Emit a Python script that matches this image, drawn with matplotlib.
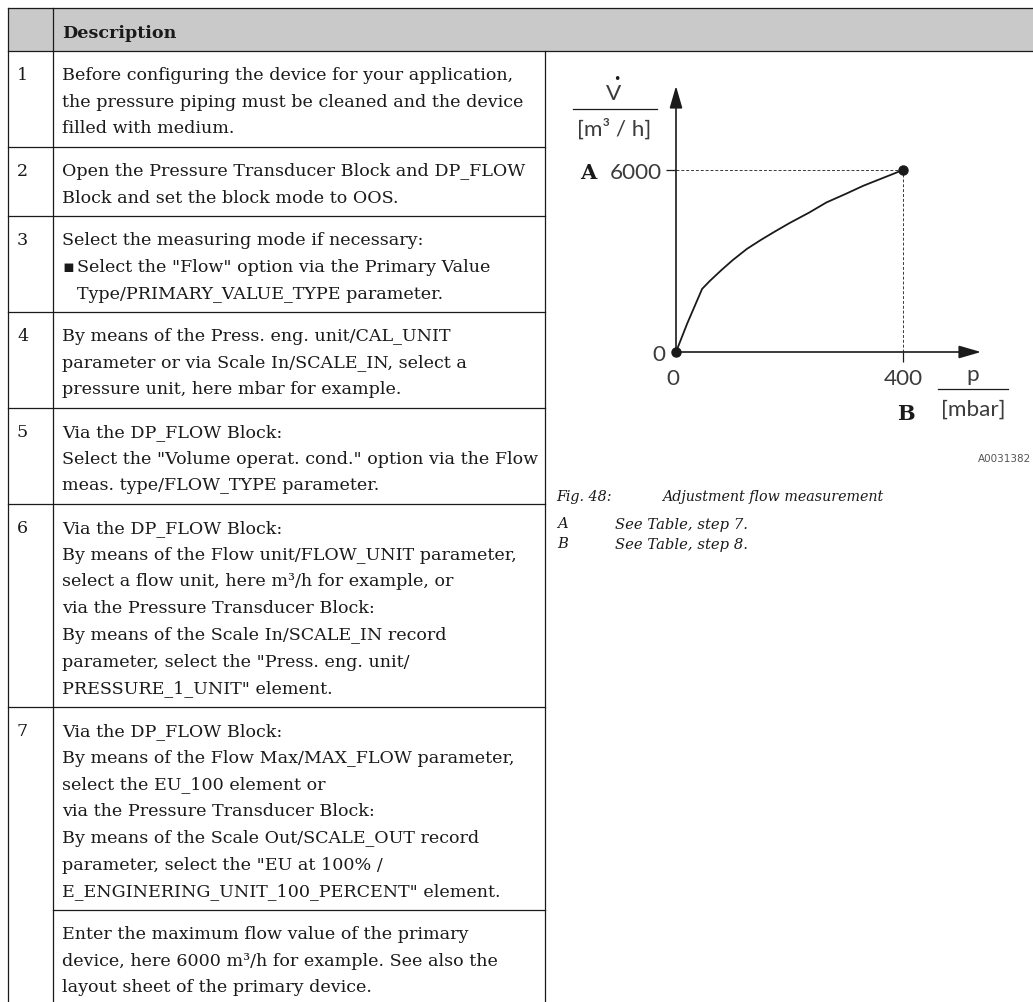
import matplotlib
matplotlib.use("Agg")
import matplotlib.pyplot as plt
from matplotlib.patches import Rectangle

W, H, DPI = 1033, 1003, 100

# flow curve: differential pressure [mbar] -> flow [m3/h]
pressure = [0, 20, 46, 60, 80, 100, 125, 150, 175, 200, 235, 265, 300, 330, 365, 400]
flow = [0, 950, 2080, 2350, 2700, 3030, 3400, 3700, 3980, 4250, 4600, 4930,
        5220, 5480, 5740, 6000]
p_max, q_max = 400, 6000

step_numbers = ["1", "2", "3", "4", "5", "6", "7", ""]
step_lines = [
    ["Before configuring the device for your application,",
     "the pressure piping must be cleaned and the device",
     "filled with medium."],
    ["Open the Pressure Transducer Block and DP_FLOW",
     "Block and set the block mode to OOS."],
    ["Select the measuring mode if necessary:",
     "\u25aaSelect the \"Flow\" option via the Primary Value",
     "\tType/PRIMARY_VALUE_TYPE parameter."],
    ["By means of the Press. eng. unit/CAL_UNIT",
     "parameter or via Scale In/SCALE_IN, select a",
     "pressure unit, here mbar for example."],
    ["Via the DP_FLOW Block:",
     "Select the \"Volume operat. cond.\" option via the Flow",
     "meas. type/FLOW_TYPE parameter."],
    ["Via the DP_FLOW Block:",
     "By means of the Flow unit/FLOW_UNIT parameter,",
     "select a flow unit, here m\u00b3/h for example, or",
     "via the Pressure Transducer Block:",
     "By means of the Scale In/SCALE_IN record",
     "parameter, select the \"Press. eng. unit/",
     "PRESSURE_1_UNIT\" element."],
    ["Via the DP_FLOW Block:",
     "By means of the Flow Max/MAX_FLOW parameter,",
     "select the EU_100 element or",
     "via the Pressure Transducer Block:",
     "By means of the Scale Out/SCALE_OUT record",
     "parameter, select the \"EU at 100% /",
     "E_ENGINERING_UNIT_100_PERCENT\" element."],
    ["Enter the maximum flow value of the primary",
     "device, here 6000 m\u00b3/h for example. See also the",
     "layout sheet of the primary device."],
]

SERIF = "DejaVu Serif"
SANS = "Lato"
INK = "#1a1a1a"

fig = plt.figure(figsize=(W / DPI, H / DPI), dpi=DPI)
ax = fig.add_axes([0, 0, 1, 1])
ax.set_xlim(0, W)
ax.set_ylim(H, 0)
ax.axis("off")
renderer = fig.canvas.get_renderer()


def fit(txt, target, **kw):
    # font size that makes txt about target pixels wide
    t = ax.text(0, 0, txt, fontsize=10, **kw)
    w = t.get_window_extent(renderer).width
    t.remove()
    return 10 * target / w


body = fit(step_lines[0][0], 452, family=SERIF)

# ---- table ----
x_left, x_div, x_right = 8, 53, 545
y_top, y_head = 9, 52
line_h, pad = 26.75, 42.5

ax.add_patch(Rectangle((x_left, y_top), W - x_left, y_head - y_top,
                       facecolor="#c9c9c9", edgecolor="none"))
lw = 0.9
ax.plot([x_left, W], [y_top, y_top], color=INK, lw=lw)
ax.plot([x_left, W], [y_head, y_head], color=INK, lw=lw)
ax.plot([x_left, x_left], [y_top, H], color=INK, lw=lw)
ax.plot([x_div, x_div], [y_top, H], color=INK, lw=lw)
ax.plot([x_right, x_right], [y_head, H], color=INK, lw=lw)
ax.text(62, (y_top + y_head) / 2 + 1, "Description", fontsize=body, family=SERIF,
        weight="bold", color=INK, va="center_baseline")

y = y_head
for k, (num, lines) in enumerate(zip(step_numbers, step_lines)):
    first = y + pad / 2
    ax.text(17, first, num, fontsize=body, family=SERIF, color=INK, va="center_baseline")
    for i, s in enumerate(lines):
        yy = first + i * line_h
        x = 62
        if s.startswith("\u25aa"):
            ax.text(62, yy, "\u25aa", fontsize=body, family="DejaVu Sans",
                    color=INK, va="center_baseline")
            s, x = s[1:], 77
        elif s.startswith("\t"):
            s, x = s[1:], 77
        ax.text(x, yy, s, fontsize=body, family=SERIF, color=INK, va="center_baseline")
    y = y + pad + (len(lines) - 1) * line_h
    if k < len(step_lines) - 1:
        x0 = x_div if k == 6 else x_left
        ax.plot([x0, x_right], [y, y], color=INK, lw=lw)

# ---- chart ----
ox, oy = 676, 353      # pixel position of (0, 0)
ex, ey = 903, 171      # pixel position of (p_max, q_max)
cx = fig.add_axes([ox / W, 1 - oy / H, (ex - ox) / W, (oy - ey) / H])
cx.set_xlim(0, p_max)
cx.set_ylim(0, q_max)
cx.axis("off")

x_tip = (981 - ox) / (ex - ox) * p_max
y_tip = (oy - 87) / (oy - ey) * q_max
arrow = dict(arrowstyle="-|>,head_length=0.9,head_width=0.26", lw=1.2, color=INK,
             mutation_scale=15, shrinkA=0, shrinkB=0)
cx.annotate("", xy=(0, y_tip), xytext=(0, 0), arrowprops=arrow, annotation_clip=False)
cx.annotate("", xy=(x_tip, 0), xytext=(0, 0), arrowprops=arrow, annotation_clip=False)

cx.plot([0, p_max], [q_max, q_max], color="#3a3a3a", lw=0.7, dashes=(3, 2), clip_on=False)
cx.plot([p_max, p_max], [0, q_max], color="#3a3a3a", lw=0.7, dashes=(3, 2), clip_on=False)
cx.plot(pressure, flow, color=INK, lw=1.3, clip_on=False, solid_joinstyle="round")
cx.plot([0], [q_max], marker=0, ms=7.5, mew=0.9, color=INK, clip_on=False)
cx.plot([p_max], [0], marker=3, ms=7, mew=0.9, color=INK, clip_on=False)
cx.plot([pressure[0], pressure[-1]], [flow[0], flow[-1]], "o", ms=6.5, color=INK,
        clip_on=False)

num = fit("6000", 52, family=SANS)
lbl = dict(family=SANS, color="#3c3c3c", fontsize=num)


def px(xv, yv):
    dx, dy = cx.transData.transform((xv, yv))
    return dx, H - dy


x0p, y0p = px(0, 0)
xqp, yqp = px(0, q_max)
xpp, ypp = px(p_max, 0)
ax.text(xqp - 14, yqp, "6000", ha="right", va="center_baseline", **lbl)
ax.text(xqp - 88, yqp, "A", ha="center", va="center_baseline", family=SERIF,
        weight="bold", fontsize=15, color=INK)
ax.text(x0p - 17, y0p, "0", ha="center", va="center_baseline", **lbl)
ax.text(x0p - 3, y0p + 24, "0", ha="center", va="center_baseline", **lbl)
ax.text(xpp, ypp + 24, "400", ha="center", va="center_baseline", **lbl)
ax.text(xpp + 3, ypp + 59, "B", ha="center", va="center_baseline", family=SERIF,
        weight="bold", fontsize=15, color=INK)
ax.text(xpp + 70, ypp + 20, "p", ha="center", va="center_baseline", **lbl)
ax.plot([xpp + 35, xpp + 105], [ypp + 37, ypp + 37], color=INK, lw=0.9)
ax.text(xpp + 70, ypp + 55, "[mbar]", ha="center", va="center_baseline", **lbl)

ax.text(x0p - 62, y0p - 261, "V", ha="center", va="center_baseline", **lbl)
ax.text(x0p - 59, y0p - 275, "\u2022", ha="center", va="center_baseline",
        family="DejaVu Sans", fontsize=9, color=INK)
ax.plot([x0p - 103, x0p - 19], [y0p - 243, y0p - 243], color=INK, lw=0.9)
ax.text(x0p - 62, y0p - 226, "[m\u00b3 / h]", ha="center", va="center_baseline", **lbl)

# ---- caption ----
ax.text(1031, 458, "A0031382", ha="right", va="center_baseline", family="DejaVu Sans",
        fontsize=fit("A0031382", 53, family="DejaVu Sans"), color="#555555")
cap = fit("Adjustment flow measurement", 222, family=SERIF, style="italic")
ax.text(556, 495, "Fig. 48:", family=SERIF, style="italic", fontsize=cap, color=INK,
        va="center_baseline")
ax.text(662, 495, "Adjustment flow measurement", family=SERIF, style="italic",
        fontsize=cap, color=INK, va="center_baseline")
leg = fit("See Table, step 7.", 132, family=SERIF, style="italic")
for yy, key, s in [(523, "A", "See Table, step 7."), (543, "B", "See Table, step 8.")]:
    ax.text(557, yy, key, family=SERIF, style="italic", fontsize=leg, color=INK,
            va="center_baseline")
    ax.text(615, yy, s, family=SERIF, style="italic", fontsize=leg, color=INK,
            va="center_baseline")

fig.savefig("out.png", dpi=DPI, facecolor="white")
